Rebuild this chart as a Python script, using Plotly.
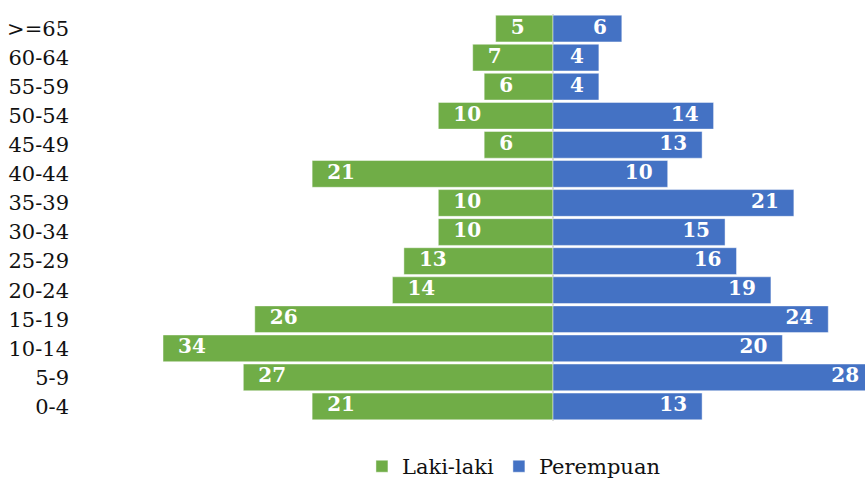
import plotly.graph_objects as go

# Age groups, bottom to top
age_groups = ["0-4", "5-9", "10-14", "15-19", "20-24", "25-29", "30-34",
              "35-39", "40-44", "45-49", "50-54", "55-59", "60-64", ">=65"]
laki_laki = [21, 27, 34, 26, 14, 13, 10, 10, 21, 6, 10, 6, 7, 5]
perempuan = [13, 28, 20, 24, 19, 16, 15, 21, 10, 13, 14, 4, 4, 6]

GREEN = "#70AD47"
BLUE = "#4472C4"
FONT = "DejaVu Serif"

W, H = 865, 481
M_L, M_R, M_T, M_B = 75, 0, 14, 60
PX_PER_UNIT = 11.47
ZERO_PX = 553
x_min = -(ZERO_PX - M_L) / PX_PER_UNIT
x_max = (W - M_R - ZERO_PX) / PX_PER_UNIT
label_pad = 15 / PX_PER_UNIT  # value labels sit 15px in from the bar end

fig = go.Figure()

fig.add_trace(go.Bar(
    y=age_groups, x=[-v for v in laki_laki], orientation="h",
    name="Laki-laki",
    marker=dict(color=GREEN, line=dict(color="rgba(255,255,255,0.45)", width=1)),
    customdata=laki_laki, hovertemplate="%{y}: %{customdata}<extra>Laki-laki</extra>",
))
fig.add_trace(go.Bar(
    y=age_groups, x=perempuan, orientation="h",
    name="Perempuan",
    marker=dict(color=BLUE, line=dict(color="rgba(255,255,255,0.45)", width=1)),
    hovertemplate="%{y}: %{x}<extra>Perempuan</extra>",
))

# value labels inside the bar ends
label_font = dict(family=FONT, size=20, color="white", weight="bold")
fig.add_trace(go.Scatter(
    y=age_groups, x=[-v + label_pad for v in laki_laki], mode="text",
    text=[str(v) for v in laki_laki], textposition="middle right",
    textfont=label_font, showlegend=False, hoverinfo="skip", cliponaxis=False,
))
fig.add_trace(go.Scatter(
    y=age_groups, x=[v - label_pad for v in perempuan], mode="text",
    text=[str(v) for v in perempuan], textposition="middle left",
    textfont=label_font, showlegend=False, hoverinfo="skip", cliponaxis=False,
))

fig.update_layout(
    width=W, height=H,
    margin=dict(l=M_L, r=M_R, t=M_T, b=M_B, pad=0, autoexpand=False),
    paper_bgcolor="white", plot_bgcolor="white",
    barmode="relative", bargap=0.08,
    font=dict(family=FONT, size=21, color="#111111"),
    showlegend=True,
    legend=dict(orientation="h", x=0.555, xanchor="center", y=-0.112, yanchor="middle",
                font=dict(family=FONT, size=21, color="#111111"),
                traceorder="normal"),
    xaxis=dict(range=[x_min, x_max], showgrid=False, showticklabels=False,
               zeroline=True, zerolinecolor="#D9D9D9", zerolinewidth=2,
               layer="above traces", fixedrange=True),
    yaxis=dict(type="category", categoryorder="array", categoryarray=age_groups,
               range=[-0.5, len(age_groups) - 0.5], showgrid=False, showline=False,
               ticks="", ticklabelstandoff=5,
               tickfont=dict(family=FONT, size=21, color="#111111"),
               fixedrange=True),
)

fig.write_html("out.html")
